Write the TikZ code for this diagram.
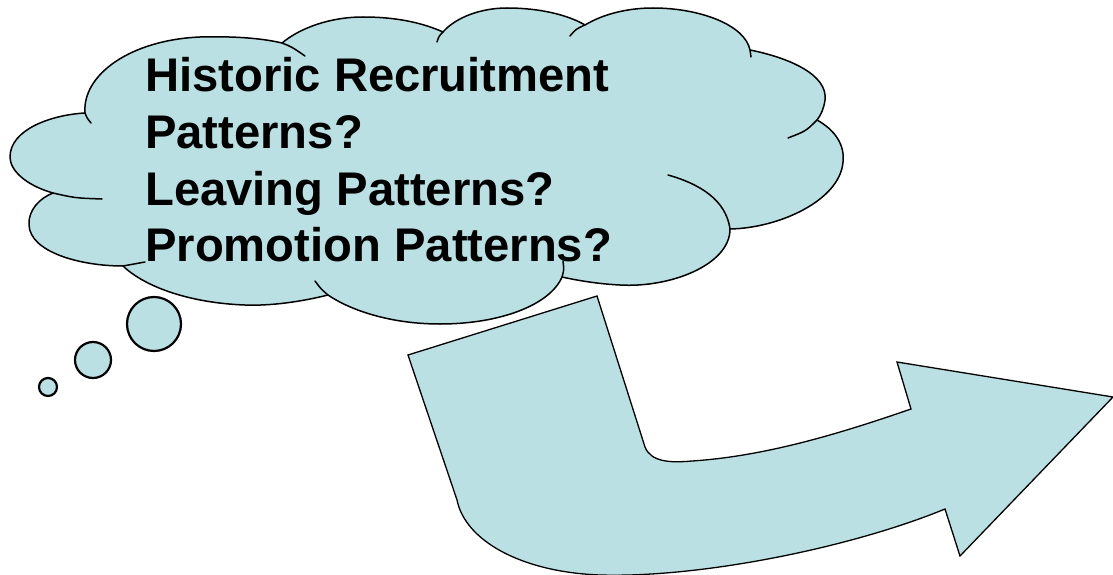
\documentclass[tikz,border=0pt]{standalone}
\usepackage{fontspec}
\setmainfont{Liberation Sans}
\definecolor{cloudfill}{RGB}{186,224,227}
\tikzset{
  cloudline/.style={draw=black, line width=1.5pt, line join=round},
  tickline/.style={draw=black, line width=1.5pt, line cap=round},
  bubble/.style={circle, draw=black, line width=2.2pt, fill=cloudfill, inner sep=0pt},
  arrowshape/.style={draw=black, line width=1.3pt, fill=cloudfill, line join=miter},
  txt/.style={anchor=base west, inner sep=0pt, font=\fontsize{47.2}{56}\selectfont\bfseries}
}
\begin{document}
\begin{tikzpicture}[x=1pt,y=-1pt]
\useasboundingbox (0,0) rectangle (1113,575);

% cloud body
\path[cloudline, fill=cloudfill]
  (85,113) .. controls (82,75) and (130,40) .. (200,37) .. controls (240,36) and (265,39) .. (282,43)
  .. controls (300,28) and (330,17) .. (363,17) .. controls (400,17) and (425,24) .. (443,32)
  .. controls (455,18) and (480,8) .. (507,8) .. controls (540,8) and (568,15) .. (585,25)
  .. controls (605,13) and (630,8) .. (653,8) .. controls (700,8) and (745,25) .. (750,50)
  .. controls (790,58) and (828,75) .. (825,100) .. controls (824,108) and (821,115) .. (817,120)
  .. controls (835,130) and (845,145) .. (843,162) .. controls (840,200) and (780,228) .. (730,229)
  .. controls (730,265) and (670,288) .. (620,285) .. controls (600,284) and (580,281) .. (562,277)
  .. controls (550,305) and (500,324) .. (440,324) .. controls (390,324) and (350,310) .. (328,295)
  .. controls (300,302) and (270,306) .. (245,305) .. controls (190,303) and (145,287) .. (123,266)
  .. controls (80,266) and (30,252) .. (29,225) .. controls (28,210) and (40,198) .. (53,193)
  .. controls (25,185) and (10,170) .. (10,157) .. controls (10,130) and (50,115) .. (85,113)
  -- cycle;

% inner ticks of the lobes
\coordinate (t1a) at (282,43);  \coordinate (t1b) at (305,56);
\coordinate (t2a) at (443,32);  \coordinate (t2b) at (437,42);
\coordinate (t3a) at (585,25);  \coordinate (t3b) at (570,36);
\coordinate (t4a) at (750,50);  \coordinate (t4b) at (751,57);
\coordinate (t5a) at (817,120); \coordinate (t5b) at (788,138);
\coordinate (t6a) at (730,229); \coordinate (t6b) at (668,175);
\coordinate (t7a) at (562,277); \coordinate (t7b) at (563,261);
\coordinate (t8a) at (328,295); \coordinate (t8b) at (315,281);
\coordinate (t9a) at (123,266); \coordinate (t9b) at (145,262);
\coordinate (t10a) at (53,193); \coordinate (t10b) at (102,199);
\coordinate (t11a) at (85,113); \coordinate (t11b) at (91,123);
\draw[tickline] (t1a) .. controls (292,47) .. (t1b);
\draw[tickline] (t2a) .. controls (439,36) .. (t2b);
\draw[tickline] (t3a) .. controls (576,29) .. (t3b);
\draw[tickline] (t4a) -- (t4b);
\draw[tickline] (t5a) .. controls (806,131) .. (t5b);
\draw[tickline] (t6a) .. controls (726,200) and (700,184) .. (t6b);
\draw[tickline] (t7a) .. controls (564,270) .. (t7b);
\draw[tickline] (t8a) .. controls (321,289) .. (t8b);
\draw[tickline] (t9a) .. controls (134,264) .. (t9b);
\draw[tickline] (t10a) .. controls (75,198) .. (t10b);
\draw[tickline] (t11a) .. controls (87,118) .. (t11b);

% thought bubbles
\node[bubble, minimum size=54pt] (b1) at (154,324) {};
\node[bubble, minimum size=36pt] (b2) at (93,360) {};
\node[bubble, minimum size=18pt] (b3) at (48,387) {};

% text
\node[txt] (l1) at (145,92) {Historic Recruitment};
\node[txt] (l2) at (145,148.5) {Patterns?};
\node[txt] (l3) at (145,205) {Leaving Patterns?};
\node[txt] (l4) at (145,261.5) {Promotion Patterns?};

% bent arrow
\path[arrowshape]
  (408,355) -- (597,296) -- (645,447)
  .. controls (651,462) and (670,463) .. (692,461)
  .. controls (770,456) and (850,430) .. (911,409)
  -- (897,362) -- (1113,397) -- (960,556) -- (945,509)
  .. controls (850,548) and (700,578) .. (600,575)
  .. controls (520,572) and (465,540) .. (457,500)
  -- cycle;
\end{tikzpicture}
\end{document}
